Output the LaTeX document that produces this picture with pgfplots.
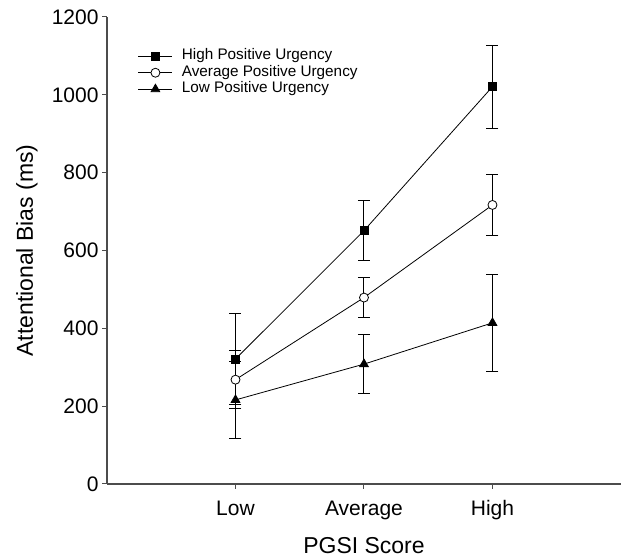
\documentclass[border=0pt]{standalone}
\usepackage{fontspec}
\setmainfont{Liberation Sans}
\usepackage{pgfplots}
\pgfplotsset{compat=1.18}

\begin{document}
\begin{tikzpicture}
\begin{axis}[
  scale only axis,
  width=514pt, height=467pt,
  xmin=0, xmax=4, ymin=0, ymax=1200,
  axis lines=left,
  axis line style={-, line width=1.1pt, black!70},
  xtick={1,2,3}, xticklabels={Low,Average,High},
  ytick={0,200,...,1200},
  tick align=outside, major tick length=5pt,
  tick style={line width=1pt, black!70},
  /pgf/number format/assume math mode=true,
  /pgf/number format/1000 sep={},
  ticklabel style={font=\fontsize{21}{24}\selectfont},
  xticklabel style={yshift=-8pt, text height=15pt, text depth=4pt},
  xlabel={PGSI Score}, ylabel={Attentional Bias (ms)},
  label style={font=\fontsize{23}{27}\selectfont},
  xlabel style={at={(axis description cs:0.5,-0.131)}, anchor=center},
  ylabel style={at={(axis description cs:-0.156,0.5)}, anchor=center},
  legend style={at={(axis description cs:0.06,0.933)}, anchor=north west,
    draw=none, fill=none, inner sep=0pt, row sep=1pt, column sep=8pt,
    font=\fontsize{15.3}{17}\selectfont,
    nodes={inner sep=1pt, text height=10.5pt, text depth=3pt}},
  legend cell align=left,
  legend image code/.code={\draw[mark repeat=2,mark phase=2] plot coordinates {(0pt,0pt)(17pt,0pt)(34pt,0pt)};},
  clip=false,
  every axis plot/.append style={line width=0.8pt},
]
\addplot[black, mark=square*, mark size=4pt, mark options={solid, fill=black},
  error bars/.cd, y dir=both, y explicit,
  error bar style={line width=1pt},
  error mark options={rotate=90, mark size=6pt, line width=1pt, black}]
  coordinates {(1,321) +- (0,117) (2,651) +- (0,77) (3,1021) +- (0,107)};
\addlegendentry{High Positive Urgency}
\addplot[black, mark=*, mark size=4.5pt, mark options={solid, fill=white},
  error bars/.cd, y dir=both, y explicit,
  error bar style={line width=1pt},
  error mark options={rotate=90, mark size=6pt, line width=1pt, black}]
  coordinates {(1,268) +- (0,74) (2,479) +- (0,52) (3,717) +- (0,79)};
\addlegendentry{Average Positive Urgency}
\addplot[black, mark=triangle*, mark size=5pt, mark options={solid, fill=black},
  error bars/.cd, y dir=both, y explicit,
  error bar style={line width=1pt},
  error mark options={rotate=90, mark size=6pt, line width=1pt, black}]
  coordinates {(1,216) +- (0,99) (2,308) +- (0,76) (3,414) +- (0,125)};
\addlegendentry{Low Positive Urgency}
\path (axis description cs:-0.2082,-0.1585) rectangle (axis description cs:1.002,1.0364);
\end{axis}
\end{tikzpicture}
\end{document}
